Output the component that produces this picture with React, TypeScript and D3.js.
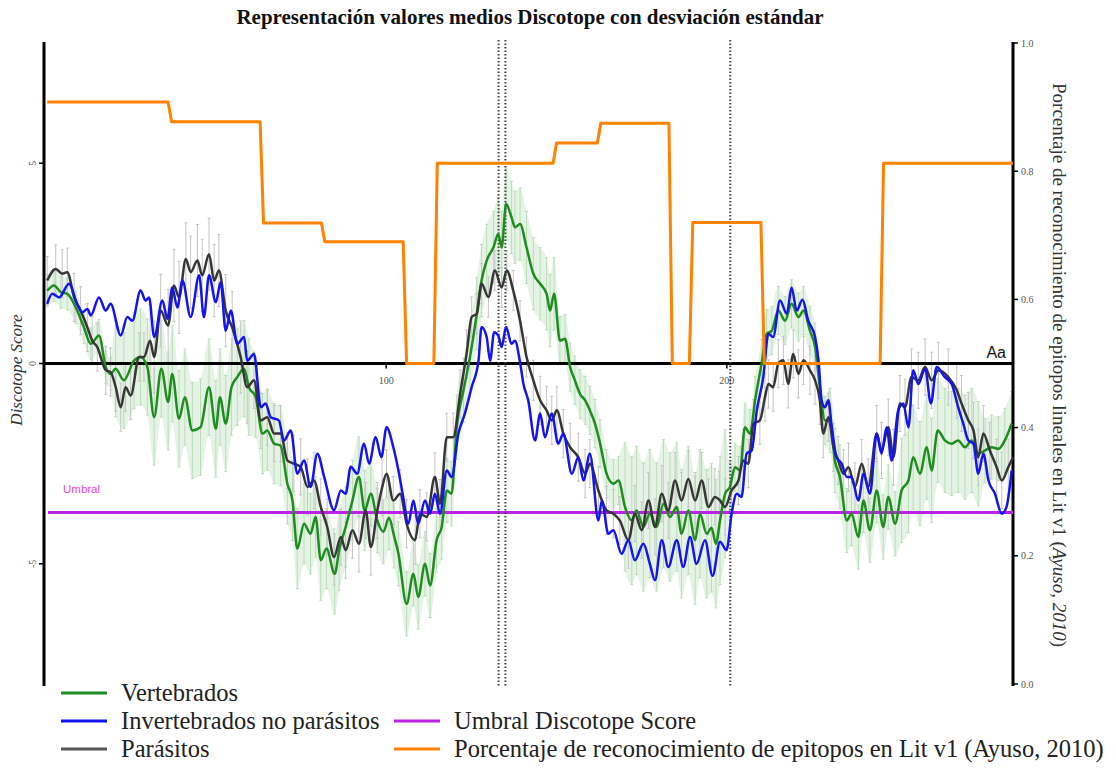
import React, { useEffect, useRef } from 'react';
import * as d3 from 'd3';

const WIDTH = 1116;
const HEIGHT = 771;

// [residue, mean Discotope score]
const vertebrados: [number, number][] = [
  [0.5, 1.82], [2.5, 1.95], [4.5, 1.78], [6.4, 1.74], [8.9, 1.4], [11.3, 0.9], [13.3, 0.49], [15.7, 0.7],
  [17.7, -0.09], [19.1, -0.26], [20.6, -0.13], [23.0, -0.42], [26.0, 0.07], [27.9, 0.16], [29.9, -0.09],
  [31.9, -1.34], [34.0, -0.13], [36.0, -0.96], [37.2, -0.26], [39.2, -1.38], [40.9, -0.84], [43.1, -1.67],
  [45.5, -1.59], [48.0, -0.59], [50.0, -1.63], [51.2, -0.84], [52.9, -1.5], [54.6, -0.59], [56.3, -0.34],
  [58.3, -0.13], [59.7, -0.59], [61.7, -0.84], [63.7, -1.75], [65.1, -1.67], [67.1, -2.0], [69.0, -2.05],
  [71.0, -3.0], [72.5, -3.42], [73.9, -4.62], [75.9, -4.0], [77.8, -4.25], [79.3, -3.83], [80.8, -4.91],
  [82.5, -4.62], [84.9, -5.25], [86.2, -4.66], [88.1, -4.08], [90.1, -3.42], [92.0, -2.83], [93.7, -3.67],
  [95.5, -3.25], [97.4, -3.92], [99.2, -4.2], [100.8, -3.85], [102.3, -4.3], [103.6, -4.75], [106.0, -6.0],
  [108.0, -5.25], [109.4, -5.83], [111.4, -5.0], [112.9, -5.54], [114.8, -4.41], [116.3, -4.08], [117.8, -3.17],
  [119.2, -3.25], [120.7, -1.59], [122.7, -0.67], [124.6, 0.16], [126.6, 1.24], [128.0, 2.07], [129.5, 2.57],
  [131.5, 2.9], [132.9, 3.23], [133.9, 2.9], [135.2, 3.98], [136.8, 3.65], [137.8, 3.4], [139.3, 3.48],
  [141.2, 2.9], [143.2, 2.24], [145.2, 1.99], [147.1, 1.74], [148.1, 1.32], [149.3, 1.74], [151.0, 0.57],
  [152.5, 0.62], [154.0, -0.09], [155.4, -0.42], [156.9, -0.76], [158.4, -0.92], [159.8, -1.17], [161.3, -1.5],
  [162.8, -2.0], [164.7, -2.75], [166.7, -3.0], [168.2, -2.92], [170.1, -3.58], [172.1, -3.92], [173.5, -3.67],
  [175.5, -4.08], [177.4, -3.75], [179.4, -4.08], [181.4, -3.5], [183.3, -3.83], [185.3, -3.58], [186.7, -4.25],
  [188.7, -3.67], [190.7, -4.41], [192.1, -3.75], [194.1, -4.25], [195.5, -4.1], [196.8, -4.5], [198.0, -3.92],
  [199.5, -3.25], [200.9, -3.08], [202.4, -2.59], [203.9, -2.67], [205.3, -1.59], [206.8, -1.75], [208.3, -0.92],
  [210.2, 0.0], [211.7, 0.74], [213.2, 0.82], [215.1, 1.32], [217.1, 1.07], [219.0, 1.49], [221.0, 1.16],
  [222.5, 1.32], [224.4, 0.82], [225.9, 0.41], [227.3, -0.59], [228.8, -1.42], [230.3, -1.42], [231.7, -2.42],
  [233.2, -2.83], [235.2, -3.92], [236.6, -3.75], [238.6, -4.33], [240.1, -3.42], [242.0, -4.16], [244.0, -3.17],
  [245.9, -4.08], [247.4, -3.33], [249.4, -4.0], [251.3, -3.17], [253.3, -2.92], [254.7, -2.34], [256.7, -2.75],
  [258.7, -2.09], [260.1, -2.67], [261.9, -1.67], [264.0, -1.92], [266.0, -2.0], [267.9, -1.92], [269.9, -2.09],
  [271.9, -1.92], [273.8, -2.25], [275.8, -2.17], [277.7, -2.09], [279.7, -2.13], [281.6, -1.92], [283.6, -1.5],
];

const invertebrados: [number, number][] = [
  [0.5, 1.49], [2.0, 1.74], [4.0, 1.65], [6.9, 1.99], [9.3, 1.49], [10.8, 1.28], [12.3, 1.36], [13.3, 1.2],
  [15.7, 1.65], [17.7, 1.32], [19.1, 1.49], [22.1, 0.7], [24.0, 1.16], [25.5, 1.07], [27.9, 1.82], [29.4, 1.57],
  [30.4, 1.65], [31.9, 0.66], [34.3, 1.57], [35.8, 1.11], [37.2, 1.9], [38.7, 1.4], [40.2, 2.07], [42.6, 1.16],
  [45.1, 2.2], [46.5, 1.16], [48.0, 2.2], [50.0, 1.53], [51.4, 2.03], [52.9, 0.82], [54.4, 1.32], [56.3, 0.49],
  [58.3, 0.66], [59.2, 0.07], [61.2, 0.24], [63.2, -1.09], [64.6, -1.0], [66.1, -1.34], [68.5, -1.42],
  [70.0, -1.92], [72.0, -1.67], [73.9, -2.75], [75.9, -2.42], [77.8, -3.08], [79.8, -2.25], [81.8, -2.83],
  [84.7, -3.66], [86.7, -3.17], [88.1, -3.25], [89.6, -2.58], [91.5, -2.75], [93.5, -2.0], [95.0, -2.5],
  [96.9, -1.84], [98.6, -2.34], [100.1, -1.59], [102.1, -2.09], [103.6, -2.67], [105.0, -3.33], [106.5, -4.0],
  [108.0, -3.42], [109.4, -4.0], [111.4, -3.42], [112.9, -3.75], [114.3, -3.25], [115.8, -3.75], [117.8, -2.67],
  [119.2, -2.83], [121.2, -1.75], [123.1, -1.25], [125.1, -0.59], [127.1, 0.07], [128.0, 0.91], [129.5, 0.66],
  [130.5, 0.07], [131.7, 0.78], [132.9, 0.7], [133.9, 0.41], [135.2, 0.91], [136.8, 0.49], [137.8, 0.57],
  [139.3, 0.03], [140.3, -0.51], [141.7, -0.92], [143.7, -1.92], [145.2, -1.25], [146.6, -1.84], [148.6, -1.25],
  [150.5, -2.0], [152.0, -1.75], [154.5, -2.75], [156.4, -2.34], [157.9, -2.92], [159.8, -2.25], [162.3, -3.92],
  [163.3, -3.42], [165.2, -4.25], [166.7, -4.16], [169.1, -4.75], [171.1, -4.41], [173.0, -4.91], [175.5, -4.5],
  [177.4, -5.0], [178.9, -5.41], [180.9, -4.41], [182.8, -5.08], [185.3, -4.41], [187.2, -5.08], [189.2, -4.33],
  [191.1, -5.0], [193.6, -4.41], [195.8, -5.3], [198.0, -4.45], [199.9, -4.66], [201.4, -3.75], [202.9, -3.25],
  [204.3, -3.33], [205.8, -2.25], [207.3, -2.17], [208.8, -1.17], [210.7, -0.34], [212.2, 0.74], [213.6, 0.66],
  [215.6, 1.57], [217.6, 1.24], [219.0, 1.9], [220.5, 1.32], [222.2, 1.59], [223.9, 1.07], [225.9, 0.66],
  [226.9, 0.08], [227.8, -0.92], [228.8, -1.09], [229.8, -0.92], [230.8, -1.59], [232.2, -2.34], [233.7, -2.5],
  [235.2, -2.83], [236.6, -2.83], [238.6, -3.42], [240.1, -2.75], [242.0, -3.25], [244.0, -1.75], [245.4, -2.25],
  [246.9, -1.59], [248.4, -2.42], [250.3, -1.17], [251.8, -1.0], [253.3, -1.59], [254.7, -0.17], [256.2, -0.51],
  [258.2, -0.13], [259.9, -1.0], [261.6, -0.09], [264.0, -0.34], [266.0, -0.51], [267.9, -1.09], [269.4, -1.5],
  [270.9, -1.92], [272.4, -2.0], [273.8, -2.75], [275.3, -2.25], [276.8, -2.92], [278.7, -3.25], [280.7, -3.75],
  [282.1, -3.58], [283.6, -2.67],
];

const parasitos: [number, number][] = [
  [0.5, 2.07], [3.0, 2.36], [4.9, 2.24], [6.4, 2.28], [8.4, 1.65], [10.3, 1.32], [12.3, 0.9], [13.7, 0.57],
  [15.2, 0.41], [17.7, -0.17], [19.1, -0.21], [20.6, -0.59], [22.1, -1.09], [23.5, -0.59], [25.0, -0.8],
  [27.5, 0.16], [28.9, 0.16], [30.7, 0.57], [31.9, 0.16], [33.8, 1.32], [36.0, 0.95], [37.7, 1.95], [39.2, 1.65],
  [41.2, 2.61], [42.6, 2.28], [44.6, 2.57], [46.0, 2.2], [48.0, 2.73], [49.5, 2.07], [50.9, 2.32], [52.9, 1.32],
  [54.8, 0.9], [57.3, 0.16], [59.2, -0.59], [61.2, -0.42], [63.2, -1.42], [65.1, -1.34], [67.1, -1.75],
  [69.0, -1.75], [71.0, -2.42], [72.9, -2.5], [74.9, -2.58], [76.9, -3.08], [78.8, -2.92], [80.8, -3.58],
  [82.7, -4.08], [84.7, -4.83], [86.7, -4.33], [88.1, -4.66], [90.1, -4.16], [92.0, -4.5], [94.0, -3.67],
  [95.5, -4.58], [97.4, -3.67], [98.8, -3.1], [100.1, -2.75], [102.1, -3.42], [104.1, -3.25], [106.0, -4.0],
  [108.5, -4.41], [109.9, -3.75], [111.9, -3.83], [114.3, -2.83], [115.8, -3.5], [117.8, -1.84], [119.7, -1.84],
  [121.7, -0.76], [123.6, 0.24], [125.1, 1.16], [126.6, 1.24], [128.0, 1.99], [130.0, 1.66], [131.9, 2.32],
  [133.9, 1.9], [135.4, 2.32], [137.3, 1.82], [139.3, 1.07], [141.2, 0.16], [143.2, -0.42], [145.2, -0.92],
  [147.1, -1.17], [148.6, -1.42], [150.1, -1.17], [152.0, -1.75], [154.0, -2.09], [156.4, -2.34], [158.4, -2.75],
  [159.8, -2.5], [162.3, -3.17], [164.7, -3.67], [166.7, -3.75], [168.6, -3.92], [171.1, -4.41], [173.0, -3.75],
  [175.0, -4.16], [177.0, -3.42], [178.9, -4.08], [180.9, -3.25], [182.8, -3.67], [184.8, -2.92], [186.7, -3.42],
  [188.7, -2.88], [190.7, -3.42], [192.6, -2.92], [194.6, -3.58], [196.5, -3.33], [197.8, -3.4], [199.5, -3.58],
  [201.4, -3.17], [203.4, -2.92], [204.8, -2.42], [206.3, -2.5], [207.8, -1.5], [209.7, -1.42], [211.2, -0.84],
  [212.2, -0.51], [213.6, -0.59], [215.1, 0.0], [216.6, 0.08], [218.0, -0.51], [219.5, 0.24], [221.0, -0.26],
  [222.5, 0.08], [224.4, -0.17], [225.9, -0.42], [227.3, -0.92], [228.3, -1.75], [229.8, -1.34], [231.3, -2.09],
  [232.7, -2.42], [234.2, -2.75], [235.7, -2.59], [237.6, -3.08], [239.6, -2.5], [241.5, -3.08], [244.0, -1.75],
  [245.4, -2.17], [247.4, -1.59], [248.9, -2.34], [250.8, -1.0], [252.3, -1.09], [254.2, -0.34], [256.2, -0.42],
  [258.2, -0.09], [260.1, -0.42], [262.1, -0.17], [265.0, -0.34], [267.5, -0.67], [268.9, -1.0], [270.9, -1.42],
  [272.4, -1.67], [273.8, -2.34], [275.3, -1.75], [277.2, -2.17], [279.2, -2.59], [280.7, -2.92], [282.6, -2.59],
  [284.0, -2.34],
];

// standard deviation per residue range: [from, to, sd]
const sdVertebrados: [number, number, number][] = [
  [0, 20, 0.4], [20, 60, 1.2], [60, 95, 1.0], [95, 125, 0.8], [125, 150, 0.9], [150, 170, 0.6],
  [170, 200, 1.6], [200, 230, 0.6], [230, 250, 0.8], [250, 275, 1.3], [275, 285, 0.8],
];
const sdParasitos: [number, number, number][] = [
  [0, 30, 0.6], [30, 60, 0.9], [60, 100, 0.7], [100, 125, 0.6], [125, 145, 0.5], [145, 170, 0.6],
  [170, 200, 0.7], [200, 240, 0.6], [240, 285, 0.7],
];

// recognition fraction per residue range (right axis): [from, to, value]
const reconocimiento: [number, number, number][] = [
  [0.5, 36, 0.908], [37, 63, 0.877], [64, 81, 0.719], [82, 105, 0.69], [106, 114, 0.5],
  [115, 149, 0.8125], [150, 162, 0.844], [163, 183, 0.875], [184, 189, 0.5], [190, 210, 0.72],
  [211, 245, 0.5], [246, 284, 0.8125],
];

const umbral = -3.72;
const marcadores = [133, 135, 201];
const leftTicks = [-5, 0, 5];
const rightTicks = [0, 0.2, 0.4, 0.6, 0.8, 1.0];
const xTicks = [100, 200];

const GREEN = '#1e8c1e';
const BLUE = '#1414f0';
const DARK = '#363636';
const ORANGE = '#ff8200';
const PURPLE = '#bb22e6';
const SERIF = '"Liberation Serif", "Times New Roman", serif';
const SANS = '"Liberation Sans", Arial, sans-serif';

const sdAt = (table: [number, number, number][], r: number) =>
  (table.find(([a, b]) => r >= a && r < b) ?? table[table.length - 1])[2];

export default function App() {
  const ref = useRef<SVGSVGElement>(null);

  useEffect(() => {
    const svg = d3.select(ref.current);
    svg.selectAll('*').remove();

    const x = d3.scaleLinear().domain([0, 284]).range([45.5, 1013]);
    const y = d3.scaleLinear().domain([-8, 8]).range([684, 43]);
    const yR = d3.scaleLinear().domain([0, 1]).range([684, 43]);
    const xLeft = 44;
    const xRight = 1013;

    // title
    svg.append('text')
      .attr('x', 530).attr('y', 24)
      .attr('text-anchor', 'middle')
      .attr('font-family', SERIF).attr('font-weight', 'bold').attr('font-size', 21)
      .attr('fill', '#111')
      .text('Representación valores medios Discotope con desviación estándar');

    // green SD band + bars
    svg.append('path')
      .datum(vertebrados)
      .attr('d', d3.area<[number, number]>()
        .x(d => x(d[0]))
        .y0(d => y(d[1] - sdAt(sdVertebrados, d[0])))
        .y1(d => y(d[1] + sdAt(sdVertebrados, d[0])))
        .curve(d3.curveMonotoneX))
      .attr('fill', '#cfe9cf').attr('opacity', 0.55);

    const bars = (data: [number, number][], table: [number, number, number][], color: string) => {
      const g = svg.append('g').attr('stroke', color).attr('stroke-width', 1);
      data.forEach(([r, v]) => {
        const sd = sdAt(table, r);
        const cx = x(r);
        g.append('line').attr('x1', cx).attr('x2', cx).attr('y1', y(v - sd)).attr('y2', y(v + sd));
        g.append('line').attr('x1', cx - 1.5).attr('x2', cx + 1.5).attr('y1', y(v - sd)).attr('y2', y(v - sd));
        g.append('line').attr('x1', cx - 1.5).attr('x2', cx + 1.5).attr('y1', y(v + sd)).attr('y2', y(v + sd));
      });
    };
    bars(vertebrados, sdVertebrados, '#b9ddb9');
    bars(parasitos, sdParasitos, '#c4c4c4');

    // left axis
    svg.append('line')
      .attr('x1', xLeft).attr('x2', xLeft).attr('y1', 42).attr('y2', 686)
      .attr('stroke', '#000').attr('stroke-width', 3);
    leftTicks.forEach(t => {
      svg.append('line').attr('x1', xLeft - 5).attr('x2', xLeft).attr('y1', y(t)).attr('y2', y(t))
        .attr('stroke', '#000').attr('stroke-width', 1.5);
      svg.append('text')
        .attr('transform', `translate(${xLeft - 8},${y(t)}) rotate(-90)`)
        .attr('text-anchor', 'middle')
        .attr('font-family', SERIF).attr('font-size', 10).attr('fill', '#555')
        .text(t);
    });
    svg.append('text')
      .attr('transform', `translate(22,${370}) rotate(-90)`)
      .attr('text-anchor', 'middle')
      .attr('font-family', SERIF).attr('font-style', 'italic').attr('font-size', 17).attr('fill', '#333')
      .text('Discotope Score');

    // right axis
    svg.append('line')
      .attr('x1', xRight).attr('x2', xRight).attr('y1', 42).attr('y2', 686)
      .attr('stroke', '#000').attr('stroke-width', 3);
    rightTicks.forEach(t => {
      svg.append('line').attr('x1', xRight).attr('x2', xRight + 5).attr('y1', yR(t)).attr('y2', yR(t))
        .attr('stroke', '#000').attr('stroke-width', 1.5);
      svg.append('text')
        .attr('x', xRight + 8).attr('y', yR(t) + 3.5)
        .attr('font-family', SERIF).attr('font-size', 10).attr('fill', '#555')
        .text(d3.format('.1f')(t));
    });
    const rl = svg.append('text')
      .attr('transform', `translate(1053,${365}) rotate(90)`)
      .attr('text-anchor', 'middle')
      .attr('font-family', SERIF).attr('font-size', 19).attr('fill', '#333');
    rl.append('tspan').text('Porcentaje de reconocimiento de epitopos lineales en Lit v1 (');
    rl.append('tspan').attr('font-style', 'italic').text('Ayuso, 2010');
    rl.append('tspan').text(')');

    // zero line with residue ticks
    svg.append('line')
      .attr('x1', xLeft).attr('x2', xRight).attr('y1', y(0)).attr('y2', y(0))
      .attr('stroke', '#000').attr('stroke-width', 3);
    xTicks.forEach(t => {
      svg.append('line').attr('x1', x(t)).attr('x2', x(t)).attr('y1', y(0)).attr('y2', y(0) + 5)
        .attr('stroke', '#000').attr('stroke-width', 1.5);
      svg.append('text')
        .attr('x', x(t)).attr('y', y(0) + 20)
        .attr('text-anchor', 'middle')
        .attr('font-family', SERIF).attr('font-size', 10).attr('fill', '#555')
        .text(t);
    });
    svg.append('text')
      .attr('x', 1006).attr('y', y(0) - 6)
      .attr('text-anchor', 'end')
      .attr('font-family', SANS).attr('font-size', 16).attr('fill', '#111')
      .text('Aa');

    // threshold
    svg.append('line')
      .attr('x1', 48).attr('x2', xRight).attr('y1', y(umbral)).attr('y2', y(umbral))
      .attr('stroke', PURPLE).attr('stroke-width', 3);
    svg.append('text')
      .attr('x', 63).attr('y', y(umbral) - 20)
      .attr('font-family', SANS).attr('font-size', 11.5).attr('fill', '#ee44dd')
      .text('Umbral');

    // dotted markers
    marcadores.forEach(m => {
      svg.append('line')
        .attr('x1', x(m)).attr('x2', x(m)).attr('y1', 40).attr('y2', 686)
        .attr('stroke', '#444').attr('stroke-width', 2).attr('stroke-dasharray', '1.5,2');
    });

    // mean lines
    const line = d3.line<[number, number]>().x(d => x(d[0])).y(d => y(d[1])).curve(d3.curveMonotoneX);
    [[vertebrados, GREEN], [parasitos, DARK], [invertebrados, BLUE]].forEach(([data, color]) => {
      svg.append('path')
        .datum(data as [number, number][])
        .attr('d', line)
        .attr('fill', 'none').attr('stroke', color as string).attr('stroke-width', 2.5)
        .attr('stroke-linejoin', 'round');
    });

    // recognition percentage (right axis)
    const pts: [number, number][] = reconocimiento.flatMap(([a, b, v]) => [[a, v], [b, v]] as [number, number][]);
    svg.append('path')
      .datum(pts)
      .attr('d', d3.line<[number, number]>().x(d => x(d[0])).y(d => yR(d[1])))
      .attr('fill', 'none').attr('stroke', ORANGE).attr('stroke-width', 3)
      .attr('stroke-linejoin', 'round');

    // legend
    const legend = [
      { label: 'Vertebrados', color: GREEN, col: 0, row: 0 },
      { label: 'Invertebrados no parásitos', color: BLUE, col: 0, row: 1 },
      { label: 'Parásitos', color: '#555', col: 0, row: 2 },
      { label: 'Umbral Discotope Score', color: PURPLE, col: 1, row: 1 },
      { label: 'Porcentaje de reconocimiento de epitopos en Lit v1 (Ayuso, 2010)', color: ORANGE, col: 1, row: 2 },
    ];
    legend.forEach(l => {
      const lx = l.col === 0 ? 61 : 394;
      const ly = 693 + l.row * 28;
      svg.append('line')
        .attr('x1', lx).attr('x2', lx + 46).attr('y1', ly).attr('y2', ly)
        .attr('stroke', l.color).attr('stroke-width', 3);
      svg.append('text')
        .attr('x', lx + 60).attr('y', ly + 8)
        .attr('font-family', SERIF).attr('font-size', 24.5).attr('fill', '#222')
        .text(l.label);
    });
  }, []);

  return (
    <svg ref={ref} width={WIDTH} height={HEIGHT}
      style={{ position: 'absolute', left: 0, top: 0, background: '#fff' }} />
  );
}
